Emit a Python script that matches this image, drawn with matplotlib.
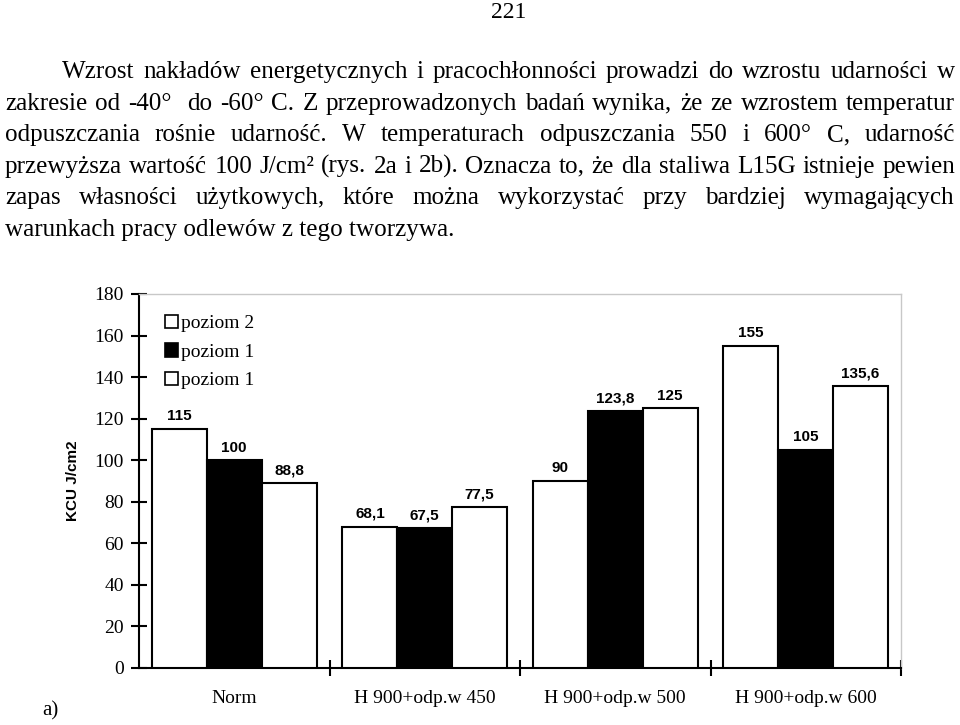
import matplotlib
matplotlib.use('Agg')
import matplotlib.pyplot as plt
from matplotlib.patches import Patch
import numpy as np

# dane z wykresu (KCU J/cm2)
grupy = ['Norm', 'H 900+odp.w 450', 'H 900+odp.w 500', 'H 900+odp.w 600']
nazwy_serii = ['poziom 2', 'poziom 1', 'poziom 1']
poziom2 = [115, 68.1, 90, 155]
poziom1_czarny = [100, 67.5, 123.8, 105]
poziom1_bialy = [88.8, 77.5, 125, 135.6]
kolory = ['white', 'black', 'white']
yticks = [0, 20, 40, 60, 80, 100, 120, 140, 160, 180]

numer_strony = '221'
akapit = [
    'Wzrost nakładów energetycznych i pracochłonności prowadzi do wzrostu udarności w',
    'zakresie od -40°  do -60° C. Z przeprowadzonych badań wynika, że ze wzrostem temperatur',
    'odpuszczania rośnie udarność. W temperaturach odpuszczania 550 i 600° C, udarność',
    'przewyższa wartość 100 J/cm² (rys. 2a i 2b). Oznacza to, że dla staliwa L15G istnieje pewien',
    'zapas własności użytkowych, które można wykorzystać przy bardziej wymagających',
    'warunkach pracy odlewów z tego tworzywa.',
]
linie_y = [78, 110, 141, 173, 204, 236]
linie_x0 = [62, 5, 5, 5, 5, 5]

SERIF = 'Liberation Serif'
SANS = 'Liberation Sans'

fig = plt.figure(figsize=(9.6, 7.25), dpi=100)
W, H = 960, 725

# wykres
x0, x1, y0, y1 = 139, 901, 668, 294
ax = fig.add_axes([x0 / W, 1 - y0 / H, (x1 - x0) / W, (y0 - y1) / H])

x = np.arange(len(grupy))
szer = 0.288
serie = [poziom2, poziom1_czarny, poziom1_bialy]
for i, wartosci in enumerate(serie):
    b = ax.bar(x + (i - 1) * szer, wartosci, szer, color=kolory[i],
               edgecolor='black', linewidth=1.5, zorder=3)
    ax.bar_label(b, labels=[f'{v:g}'.replace('.', ',') for v in wartosci],
                 padding=4, fontsize=11, fontweight='bold', family=SANS)

ax.set_xlim(-0.5, len(grupy) - 0.5)
ax.set_ylim(0, 180)
ax.set_yticks(yticks)
ax.set_yticklabels([str(v) for v in yticks], family=SERIF, fontsize=14)
ax.tick_params(axis='y', direction='inout', length=12, width=1.5, pad=5)

ax.set_xticks(x + 0.5)
ax.set_xticklabels([])
ax.set_xticks(x, minor=True)
ax.set_xticklabels(grupy, minor=True, family=SERIF, fontsize=14)
ax.tick_params(axis='x', which='major', direction='inout', length=12, width=1.5)
ax.tick_params(axis='x', which='minor', length=0, pad=16)

for s in ['left', 'bottom']:
    ax.spines[s].set_linewidth(1.5)
for s in ['top', 'right']:
    ax.spines[s].set_color('#c8c8c8')
    ax.spines[s].set_linewidth(1)

ax.set_ylabel('KCU J/cm2', family=SANS, fontweight='bold', fontsize=11)
ax.yaxis.set_label_coords((80 - x0) / (x1 - x0), 0.5)

uchwyty = [Patch(facecolor=kolory[i], edgecolor='black', linewidth=1.2) for i in range(3)]
ax.legend(uchwyty, nazwy_serii, loc='upper left', frameon=False,
          bbox_to_anchor=(165 / W, 1 - 315 / H), bbox_transform=fig.transFigure,
          borderpad=0, borderaxespad=0, handlelength=0.67, handleheight=0.67,
          handletextpad=0.15, labelspacing=0.56, prop={'family': SERIF, 'size': 14})

# tekst strony
tx = fig.add_axes([0, 0, 1, 1])
tx.set_xlim(0, W)
tx.set_ylim(H, 0)
tx.axis('off')

tx.text(509, 12, numer_strony, family=SERIF, fontsize=17, ha='center', va='center')
tx.text(50, 711, 'a)', family=SERIF, fontsize=15, ha='center', va='center')

renderer = fig.canvas.get_renderer()


def szerokosc(s, rozmiar):
    t = tx.text(0, 0, s, family=SERIF, fontsize=rozmiar)
    w = t.get_window_extent(renderer).width
    t.remove()
    return w


rozmiar = 20 * 448 / szerokosc(akapit[-1], 20)

for n, linia in enumerate(akapit):
    if n == len(akapit) - 1:
        tx.text(linie_x0[n], linie_y[n], linia, family=SERIF, fontsize=rozmiar,
                ha='left', va='baseline')
        continue
    slowa = linia.split(' ')
    szer_slow = [szerokosc(s, rozmiar) for s in slowa]
    odstep = (955 - linie_x0[n] - sum(szer_slow)) / (len(slowa) - 1)
    xp = linie_x0[n]
    for s, w in zip(slowa, szer_slow):
        if s:
            tx.text(xp, linie_y[n], s, family=SERIF, fontsize=rozmiar,
                    ha='left', va='baseline')
        xp += w + odstep

fig.savefig('out.png', dpi=100)
